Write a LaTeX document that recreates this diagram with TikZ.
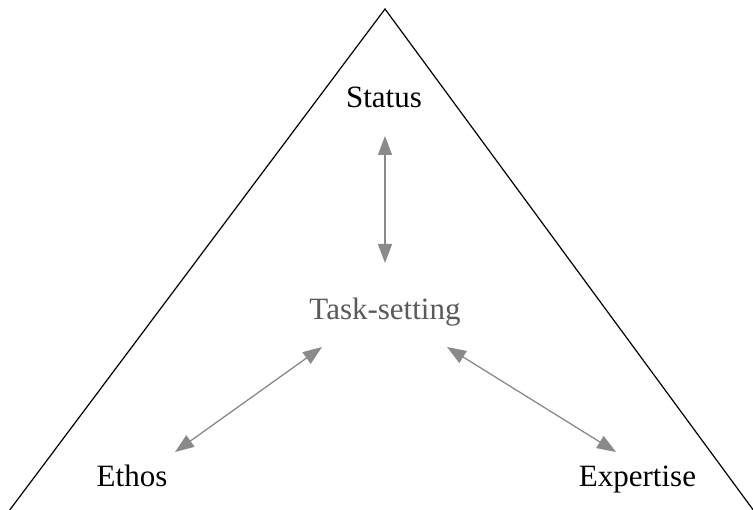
\documentclass[tikz,border=0pt]{standalone}
\usepackage{fontspec}
\setmainfont{Liberation Serif}
\usetikzlibrary{arrows.meta}
\definecolor{arrowgray}{HTML}{8A8A8A}
\definecolor{textgray}{HTML}{5A5A5A}
\tikzset{
  lbl/.style={anchor=base, inner sep=0pt, font=\fontsize{31}{36}\selectfont},
  link/.style={draw=arrowgray, line width=1.3pt, {Triangle[length=19pt,width=14pt]}-{Triangle[length=19pt,width=14pt]}},
  frame/.style={draw=black, line width=1.2pt}
}
\begin{document}
\begin{tikzpicture}[x=1pt,y=-1pt]
\useasboundingbox (0,0) rectangle (753,510);
\coordinate (apex) at (385,9);
\coordinate (bl) at (9,511);
\coordinate (br) at (754,511);
\draw[frame] (bl) -- (apex) -- (br);
\node[lbl] (status) at (384,108) {Status};
\node[lbl, text=textgray] (task) at (385,320) {Task-setting};
\node[lbl] (ethos) at (132,487) {Ethos};
\node[lbl] (expertise) at (637.5,487) {Expertise};
\coordinate (s1) at (385,136);
\coordinate (s2) at (385,263);
\coordinate (e1) at (175,452);
\coordinate (e2) at (322,347);
\coordinate (x1) at (447,347);
\coordinate (x2) at (616,452);
\draw[link] (s1) -- (s2);
\draw[link] (e1) -- (e2);
\draw[link] (x1) -- (x2);
\end{tikzpicture}
\end{document}
